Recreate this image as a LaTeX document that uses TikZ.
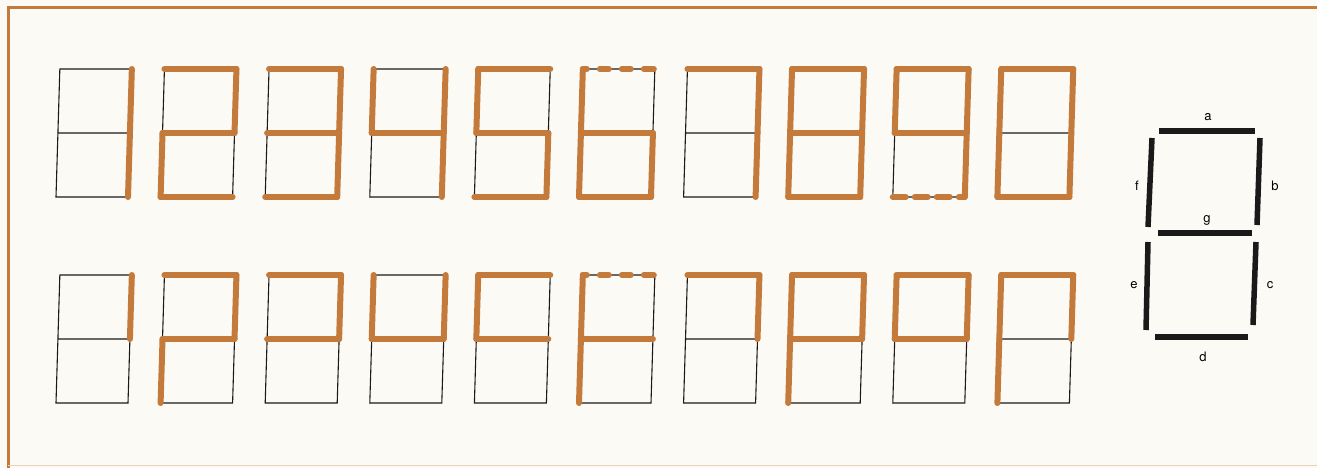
\documentclass[tikz,border=0pt]{standalone}
\usepackage{fontspec}
\setsansfont{TeX Gyre Heros}
\definecolor{paper}{HTML}{FBFAF5}
\definecolor{copper}{HTML}{C47A3A}
\definecolor{ink}{HTML}{1A1A1A}

\newcommand{\segdigit}[3][]{%
 \begin{scope}[shift={#2},xslant=.03]
 \coordinate (a1) at (0,128); \coordinate (a2) at (72,128);
 \coordinate (b1) at (72,128); \coordinate (b2) at (72,64);
 \coordinate (c1) at (72,64); \coordinate (c2) at (72,0);
 \coordinate (d1) at (0,0); \coordinate (d2) at (72,0);
 \coordinate (e1) at (0,0); \coordinate (e2) at (0,64);
 \coordinate (f1) at (0,64); \coordinate (f2) at (0,128);
 \coordinate (g1) at (0,64); \coordinate (g2) at (72,64);
 \draw[thinseg] (a1) -- (a2) -- (c2) -- (d1) -- cycle (g1) -- (g2);
 \foreach \s in {#3} \draw[litseg] (\s1) -- (\s2);
 #1
 \end{scope}}

\begin{document}
\begin{tikzpicture}[x=1pt,y=1pt,
  thinseg/.style={ink,line width=1.1pt},
  litseg/.style={copper,line width=6pt,line cap=round},
  dashtop/.style={dash pattern=on 4pt off 13pt on 9pt off 13pt on 9pt off 13pt on 10pt off 20pt},
  dashbot/.style={dash pattern=on 13pt off 9pt on 13pt off 9pt on 13pt off 9pt on 20pt off 10pt},
  keyseg/.style={ink,line width=5.5pt},
  keylbl/.style={font=\sffamily\fontsize{13}{15}\selectfont,inner sep=0pt}]
\useasboundingbox (0,0) rectangle (1317,468);
\fill[paper] (0,0) rectangle (1317,468);
\draw[copper,line width=3pt] (8,-5) -- (8,460) -- (1320,460);
\draw[copper!35,line width=1pt] (8,2) -- (1320,2);

\segdigit{(56,271)}{b,c}
\segdigit{(160.6,271)}{a,b,g,e,d}
\segdigit{(265.2,271)}{a,b,g,c,d}
\segdigit{(369.8,271)}{f,g,b,c}
\segdigit{(474.4,271)}{a,f,g,c,d}
\segdigit[{\draw[litseg,dashtop] (a1) -- (a2);}]{(579,271)}{f,g,e,d,c}
\segdigit{(683.6,271)}{a,b,c}
\segdigit{(788.2,271)}{a,b,c,d,e,f,g}
\segdigit[{\draw[litseg,dashbot] (d1) -- (d2);}]{(892.8,271)}{a,b,f,g,c}
\segdigit{(997.4,271)}{a,b,c,d,e,f}

\segdigit{(56,65)}{b}
\segdigit{(160.6,65)}{a,b,g,e}
\segdigit{(265.2,65)}{a,b,g}
\segdigit{(369.8,65)}{f,g,b}
\segdigit{(474.4,65)}{a,f,g}
\segdigit[{\draw[litseg,dashtop] (a1) -- (a2);}]{(579,65)}{f,g,e}
\segdigit{(683.6,65)}{a,b}
\segdigit{(788.2,65)}{a,b,f,g,e}
\segdigit{(892.8,65)}{a,b,f,g}
\segdigit{(997.4,65)}{a,b,f,e}

\draw[keyseg] (1159,337) -- (1255,337);
\draw[keyseg] (1152,330) -- (1148,241);
\draw[keyseg] (1260,330) -- (1257,243);
\draw[keyseg] (1158,235) -- (1252,235);
\draw[keyseg] (1148,226) -- (1146,138);
\draw[keyseg] (1256,226) -- (1253,143);
\draw[keyseg] (1155,131) -- (1248,131);
\node[keylbl] (lbl-a) at (1208,351) {a};
\node[keylbl] (lbl-b) at (1275,282) {b};
\node[keylbl] (lbl-c) at (1270,183) {c};
\node[keylbl] (lbl-d) at (1203,111) {d};
\node[keylbl] (lbl-e) at (1134,183) {e};
\node[keylbl] (lbl-f) at (1137,282) {f};
\node[keylbl] (lbl-g) at (1207,248) {g};
\end{tikzpicture}
\end{document}
